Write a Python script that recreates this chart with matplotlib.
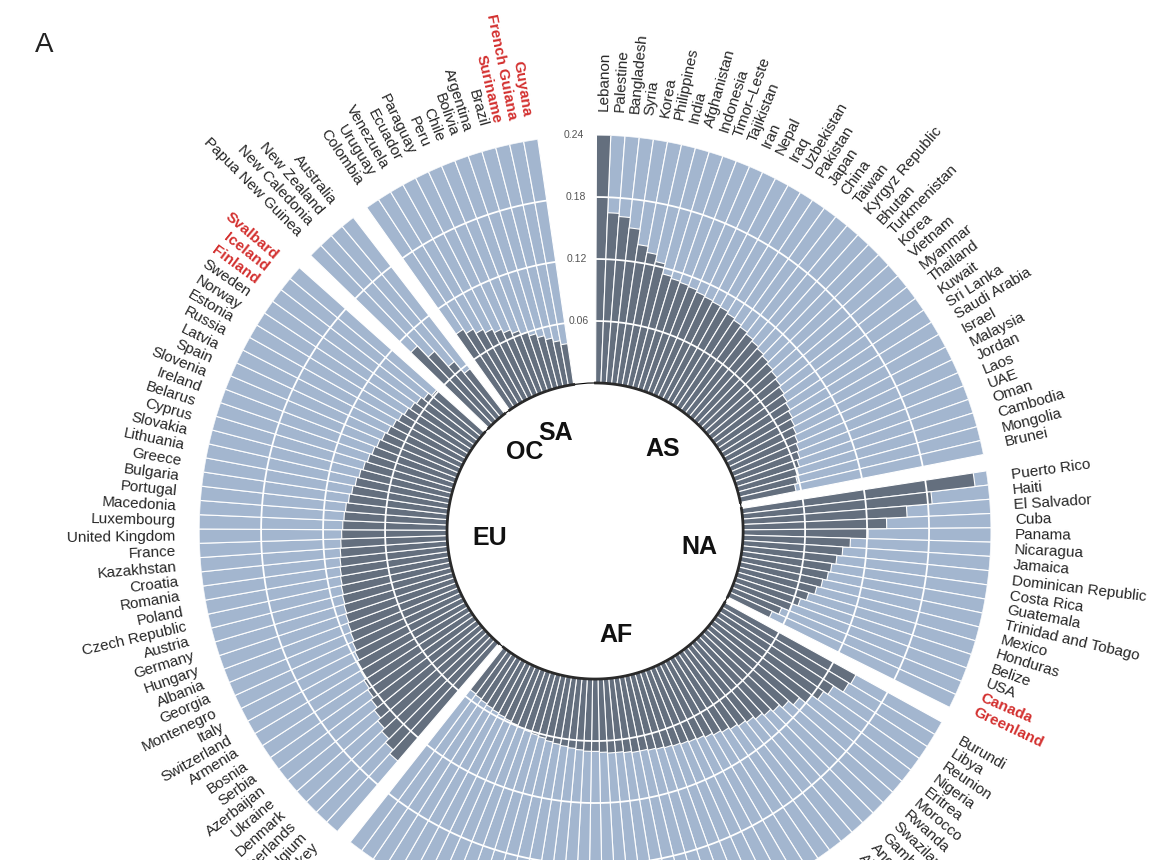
import numpy as np
import matplotlib.pyplot as plt

plt.rcParams['font.family'] = ['Liberation Sans', 'DejaVu Sans']

# groups in clockwise order starting at 12 o'clock
as_names = ["Lebanon", "Palestine", "Bangladesh", "Syria", "Korea", "Philippines", "India",
            "Afghanistan", "Indonesia", "Timor\u2013Leste", "Tajikistan", "Iran", "Nepal", "Iraq",
            "Uzbekistan", "Pakistan", "Japan", "China", "Taiwan", "Kyrgyz Republic", "Bhutan",
            "Turkmenistan", "Korea", "Vietnam", "Myanmar", "Thailand", "Kuwait", "Sri Lanka",
            "Saudi Arabia", "Israel", "Malaysia", "Jordan", "Laos", "UAE", "Oman", "Cambodia",
            "Mongolia", "Brunei"]
as_vals = [0.240, 0.165, 0.162, 0.152, 0.137, 0.131, 0.124, 0.114, 0.112, 0.111, 0.110, 0.108,
           0.107, 0.106, 0.105, 0.103, 0.101, 0.099, 0.097, 0.095, 0.093, 0.091, 0.089, 0.087,
           0.085, 0.083, 0.081, 0.079, 0.077, 0.075, 0.073, 0.071, 0.069, 0.067, 0.064, 0.061,
           0.058, 0.055]

na_names = ["Puerto Rico", "Haiti", "El Salvador", "Cuba", "Panama", "Nicaragua", "Jamaica",
            "Dominican Republic", "Costa Rica", "Guatemala", "Trinidad and Tobago", "Mexico",
            "Honduras", "Belize", "USA", "Canada", "Greenland"]
na_vals = [0.227, 0.184, 0.159, 0.139, 0.121, 0.104, 0.097, 0.092, 0.088, 0.086, 0.082, 0.078,
           0.072, 0.066, 0.060, 0.052, 0.045]

af_names = ["Burundi", "Libya", "Reunion", "Nigeria", "Eritrea", "Morocco", "Rwanda", "Swaziland",
            "Gambia", "Angola", "Algeria", "Benin", "Botswana", "Burkina Faso", "Cameroon",
            "Cape Verde", "Chad", "Comoros", "Congo", "Djibouti", "Egypt", "Ethiopia", "Gabon",
            "Ghana", "Guinea", "Ivory Coast", "Kenya", "Lesotho", "Liberia", "Madagascar",
            "Malawi", "Mali", "Mauritania", "Mauritius", "Mozambique", "Namibia", "Niger",
            "Senegal", "Sierra Leone", "Somalia", "South Africa", "Sudan", "Tanzania", "Togo",
            "Tunisia", "Uganda", "Zambia", "Zimbabwe"]
af_vals = [0.145, 0.143, 0.132, 0.127, 0.120, 0.112, 0.106, 0.102, 0.099, 0.096,
           0.093, 0.091, 0.089, 0.087, 0.085, 0.083, 0.081, 0.080, 0.079, 0.078,
           0.077, 0.076, 0.075, 0.074, 0.074, 0.073, 0.072, 0.072, 0.071, 0.070,
           0.070, 0.069, 0.068, 0.067, 0.066, 0.065, 0.063, 0.062, 0.061, 0.060,
           0.059, 0.058, 0.057, 0.056, 0.055, 0.054, 0.053, 0.052]

eu_names = ["Turkey", "Belgium", "Netherlands", "Denmark", "Ukraine", "Azerbaijan", "Serbia",
            "Bosnia", "Armenia", "Switzerland", "Italy", "Montenegro", "Georgia", "Albania",
            "Hungary", "Germany", "Austria", "Czech Republic", "Poland", "Romania", "Croatia",
            "Kazakhstan", "France", "United Kingdom", "Luxembourg", "Macedonia", "Portugal",
            "Bulgaria", "Greece", "Lithuania", "Slovakia", "Cyprus", "Belarus", "Ireland",
            "Slovenia", "Spain", "Latvia", "Russia", "Estonia", "Norway", "Sweden", "Finland",
            "Iceland", "Svalbard"]
eu_vals = [0.150, 0.145, 0.140, 0.136, 0.132, 0.128, 0.125, 0.123, 0.121, 0.119, 0.117, 0.115,
           0.113, 0.112, 0.111, 0.110, 0.109, 0.108, 0.107, 0.106, 0.105, 0.104, 0.103, 0.102,
           0.101, 0.100, 0.099, 0.097, 0.095, 0.093, 0.091, 0.089, 0.087, 0.085, 0.083, 0.081,
           0.079, 0.077, 0.075, 0.073, 0.071, 0.069, 0.066, 0.062]

oc_names = ["Papua New Guinea", "New Caledonia", "New Zealand", "Australia"]
oc_vals = [0.105, 0.090, 0.070, 0.055]

sa_names = ["Colombia", "Uruguay", "Venezuela", "Ecuador", "Paraguay", "Peru", "Chile", "Bolivia",
            "Argentina", "Brazil", "Suriname", "French Guiana", "Guyana"]
sa_vals = [0.090, 0.085, 0.080, 0.076, 0.072, 0.068, 0.064, 0.060, 0.056, 0.052, 0.048, 0.044,
           0.040]

highlight = ["Suriname", "French Guiana", "Guyana", "Svalbard", "Iceland", "Finland",
             "Canada", "Greenland"]

groups = [("AS", as_names, as_vals), ("NA", na_names, na_vals), ("AF", af_names, af_vals),
          ("EU", eu_names, eu_vals), ("OC", oc_names, oc_vals), ("SA", sa_names, sa_vals)]

ticks = [0.06, 0.12, 0.18, 0.24]

W = np.deg2rad(2.07)
GAP = np.deg2rad(2.4)
LIGHT = '#a3b6cf'
DARK = '#646f7e'
RED = '#d3302f'
LABEL_R = 0.263

fig = plt.figure(figsize=(11.6, 8.6), dpi=100)
# the circle is larger than the figure, its lower part is cut off like in the original panel
ax = fig.add_axes([0.1716, -0.0779, 0.6828, 0.9209], projection='polar')
ax.set_theta_zero_location('N')
ax.set_theta_direction(-1)
ax.set_ylim(0, 0.24)
ax.set_rorigin(-0.1433)
ax.set_xticks([])
ax.set_yticks([])
ax.grid(False)
for sp in ax.spines.values():
    sp.set_visible(False)

t = np.deg2rad(0.2)
for region, names, vals in groups:
    theta = t + W * np.arange(len(vals))
    ax.bar(theta, [0.24] * len(vals), width=W, bottom=0, align='edge',
           color=LIGHT, edgecolor='white', linewidth=0.8, zorder=1)
    ax.bar(theta, vals, width=W, bottom=0, align='edge',
           color=DARK, edgecolor='white', linewidth=0.8, zorder=2)
    arc = np.linspace(theta[0], theta[-1] + W, 100)
    ax.plot(arc, np.zeros_like(arc), color='#2a2a2a', lw=2, zorder=4, clip_on=False)
    mid = (theta[0] + theta[-1] + W) / 2
    ax.text(mid, -0.041, region, ha='center', va='center', fontsize=18,
            fontweight='bold', color='#111111')

    for th, name in zip(theta + W / 2, names):
        # skip names whose anchor falls below the visible part of the panel
        if ax.transData.transform((th, LABEL_R))[1] < 0:
            continue
        a = 90 - np.rad2deg(th)
        a = (a + 180) % 360 - 180
        if -90 <= a <= 90:
            rot, ha = a, 'left'
        else:
            rot, ha = a - 180 if a > 0 else a + 180, 'right'
        red = name in highlight
        ax.text(th, LABEL_R, name, rotation=rot, rotation_mode='anchor', ha=ha, va='center',
                fontsize=11, color=RED if red else '#262626',
                fontweight='bold' if red else 'normal', clip_on=False)
    t = theta[-1] + W + GAP

# white rings across the bars
ring = np.linspace(0, 2 * np.pi, 720)
for r in ticks[:-1]:
    ax.plot(ring, np.full_like(ring, r), color='white', lw=1.3, zorder=3)

for r in ticks:
    ax.text(np.deg2rad(-1.6), r, f'{r:.2f}', ha='right', va='center', fontsize=7.5,
            color='#555555')

fig.text(0.03, 0.94, 'A', fontsize=20, color='#222222')

fig.savefig('out.png', dpi=100)
